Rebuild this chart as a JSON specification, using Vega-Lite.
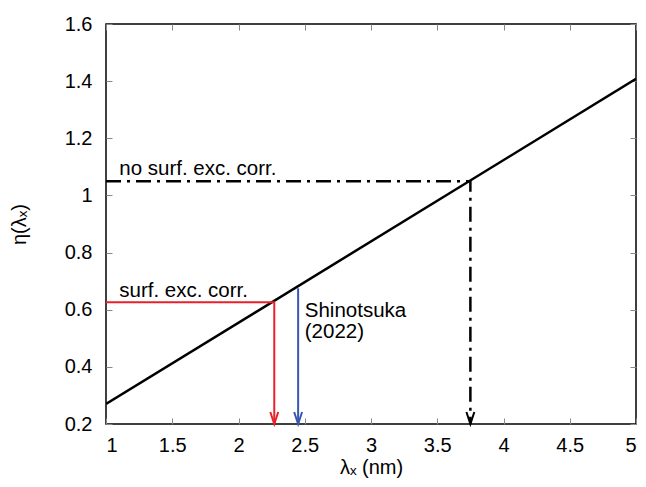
{
  "$schema": "https://vega.github.io/schema/vega-lite/v6.json",
  "width": 530,
  "height": 400,
  "autosize": "none",
  "padding": {"left": 106, "top": 24, "right": 10, "bottom": 63},
  "background": "white",
  "config": {
    "font": "Liberation Sans",
    "view": {"stroke": "black", "strokeWidth": 1.5},
    "axis": {
      "grid": false,
      "domain": false,
      "tickColor": "#888888",
      "tickSize": -6,
      "tickWidth": 1,
      "labelFont": "Liberation Sans",
      "labelFontSize": 20,
      "labelColor": "black",
      "titleFont": "Liberation Sans",
      "titleFontSize": 20,
      "titleFontWeight": "normal",
      "titleColor": "black"
    }
  },
  "datasets": {
    "main": [{"x": 1, "y": 0.27}, {"x": 5, "y": 1.408}],
    "nocorr": [{"x": 1, "y": 1.05}, {"x": 3.75, "y": 1.05}, {"x": 3.75, "y": 0.2}],
    "corr": [{"x": 1, "y": 0.626}, {"x": 2.27, "y": 0.626}, {"x": 2.27, "y": 0.2}],
    "shino": [{"x": 2.45, "y": 0.675}, {"x": 2.45, "y": 0.2}],
    "heads": [
      {"x": 2.27, "y": 0.2, "c": "corr"},
      {"x": 2.45, "y": 0.2, "c": "shino"},
      {"x": 3.75, "y": 0.2, "c": "nocorr"}
    ],
    "labels": [
      {"x": 1.1, "y": 1.07, "t": "no surf. exc. corr."},
      {"x": 1.1, "y": 0.645, "t": "surf. exc. corr."},
      {"x": 2.5, "y": 0.575, "t": "Shinotsuka"},
      {"x": 2.5, "y": 0.5, "t": "(2022)"}
    ]
  },
  "resolve": {"axis": {"x": "independent", "y": "independent"}},
  "layer": [
    {
      "data": {"name": "main"},
      "mark": {"type": "line", "color": "black", "strokeWidth": 2.5, "clip": true},
      "encoding": {
        "x": {"field": "x", "type": "quantitative",
              "scale": {"domain": [1, 5], "nice": false, "zero": false},
              "axis": {"orient": "bottom", "values": [1, 1.5, 2, 2.5, 3, 3.5, 4, 4.5, 5], "format": "~g", "labelPadding": 17, "title": "λₓ (nm)", "titlePadding": 2}},
        "y": {"field": "y", "type": "quantitative",
              "scale": {"domain": [0.2, 1.6], "nice": false, "zero": false},
              "axis": {"orient": "left", "values": [0.2, 0.4, 0.6, 0.8, 1, 1.2, 1.4, 1.6], "format": "~g", "labelPadding": 20, "title": "η(λₓ)", "titlePadding": 35}}
      }
    },
    {
      "data": {"name": "nocorr"},
      "mark": {"type": "line", "color": "black", "strokeWidth": 2.5, "strokeDash": [15, 6, 3, 6]},
      "encoding": {
        "x": {"field": "x", "type": "quantitative",
              "axis": {"orient": "top", "values": [1, 1.5, 2, 2.5, 3, 3.5, 4, 4.5, 5], "labels": false, "title": null}},
        "y": {"field": "y", "type": "quantitative",
              "axis": {"orient": "right", "values": [0.2, 0.4, 0.6, 0.8, 1, 1.2, 1.4, 1.6], "labels": false, "title": null}},
        "order": {"field": "x"}
      }
    },
    {
      "data": {"name": "corr"},
      "mark": {"type": "line", "color": "#e8222a", "strokeWidth": 2, "order": false},
      "encoding": {
        "x": {"field": "x", "type": "quantitative", "axis": null},
        "y": {"field": "y", "type": "quantitative", "axis": null}
      }
    },
    {
      "data": {"name": "shino"},
      "mark": {"type": "line", "color": "#3a57b0", "strokeWidth": 2, "order": false},
      "encoding": {
        "x": {"field": "x", "type": "quantitative", "axis": null},
        "y": {"field": "y", "type": "quantitative", "axis": null}
      }
    },
    {
      "data": {"name": "heads"},
      "mark": {"type": "point", "shape": "M-0.33,-1L0,0L0.33,-1", "filled": false, "size": 576, "strokeWidth": 2, "opacity": 1},
      "encoding": {
        "x": {"field": "x", "type": "quantitative", "axis": null},
        "y": {"field": "y", "type": "quantitative", "axis": null},
        "color": {"field": "c", "type": "nominal", "legend": null,
                  "scale": {"domain": ["corr", "shino", "nocorr"], "range": ["#e8222a", "#3a57b0", "black"]}}
      }
    },
    {
      "data": {"name": "labels"},
      "mark": {"type": "text", "align": "left", "baseline": "alphabetic", "fontSize": 20.5, "font": "Liberation Sans", "color": "black"},
      "encoding": {
        "x": {"field": "x", "type": "quantitative", "axis": null},
        "y": {"field": "y", "type": "quantitative", "axis": null},
        "text": {"field": "t"}
      }
    }
  ]
}
